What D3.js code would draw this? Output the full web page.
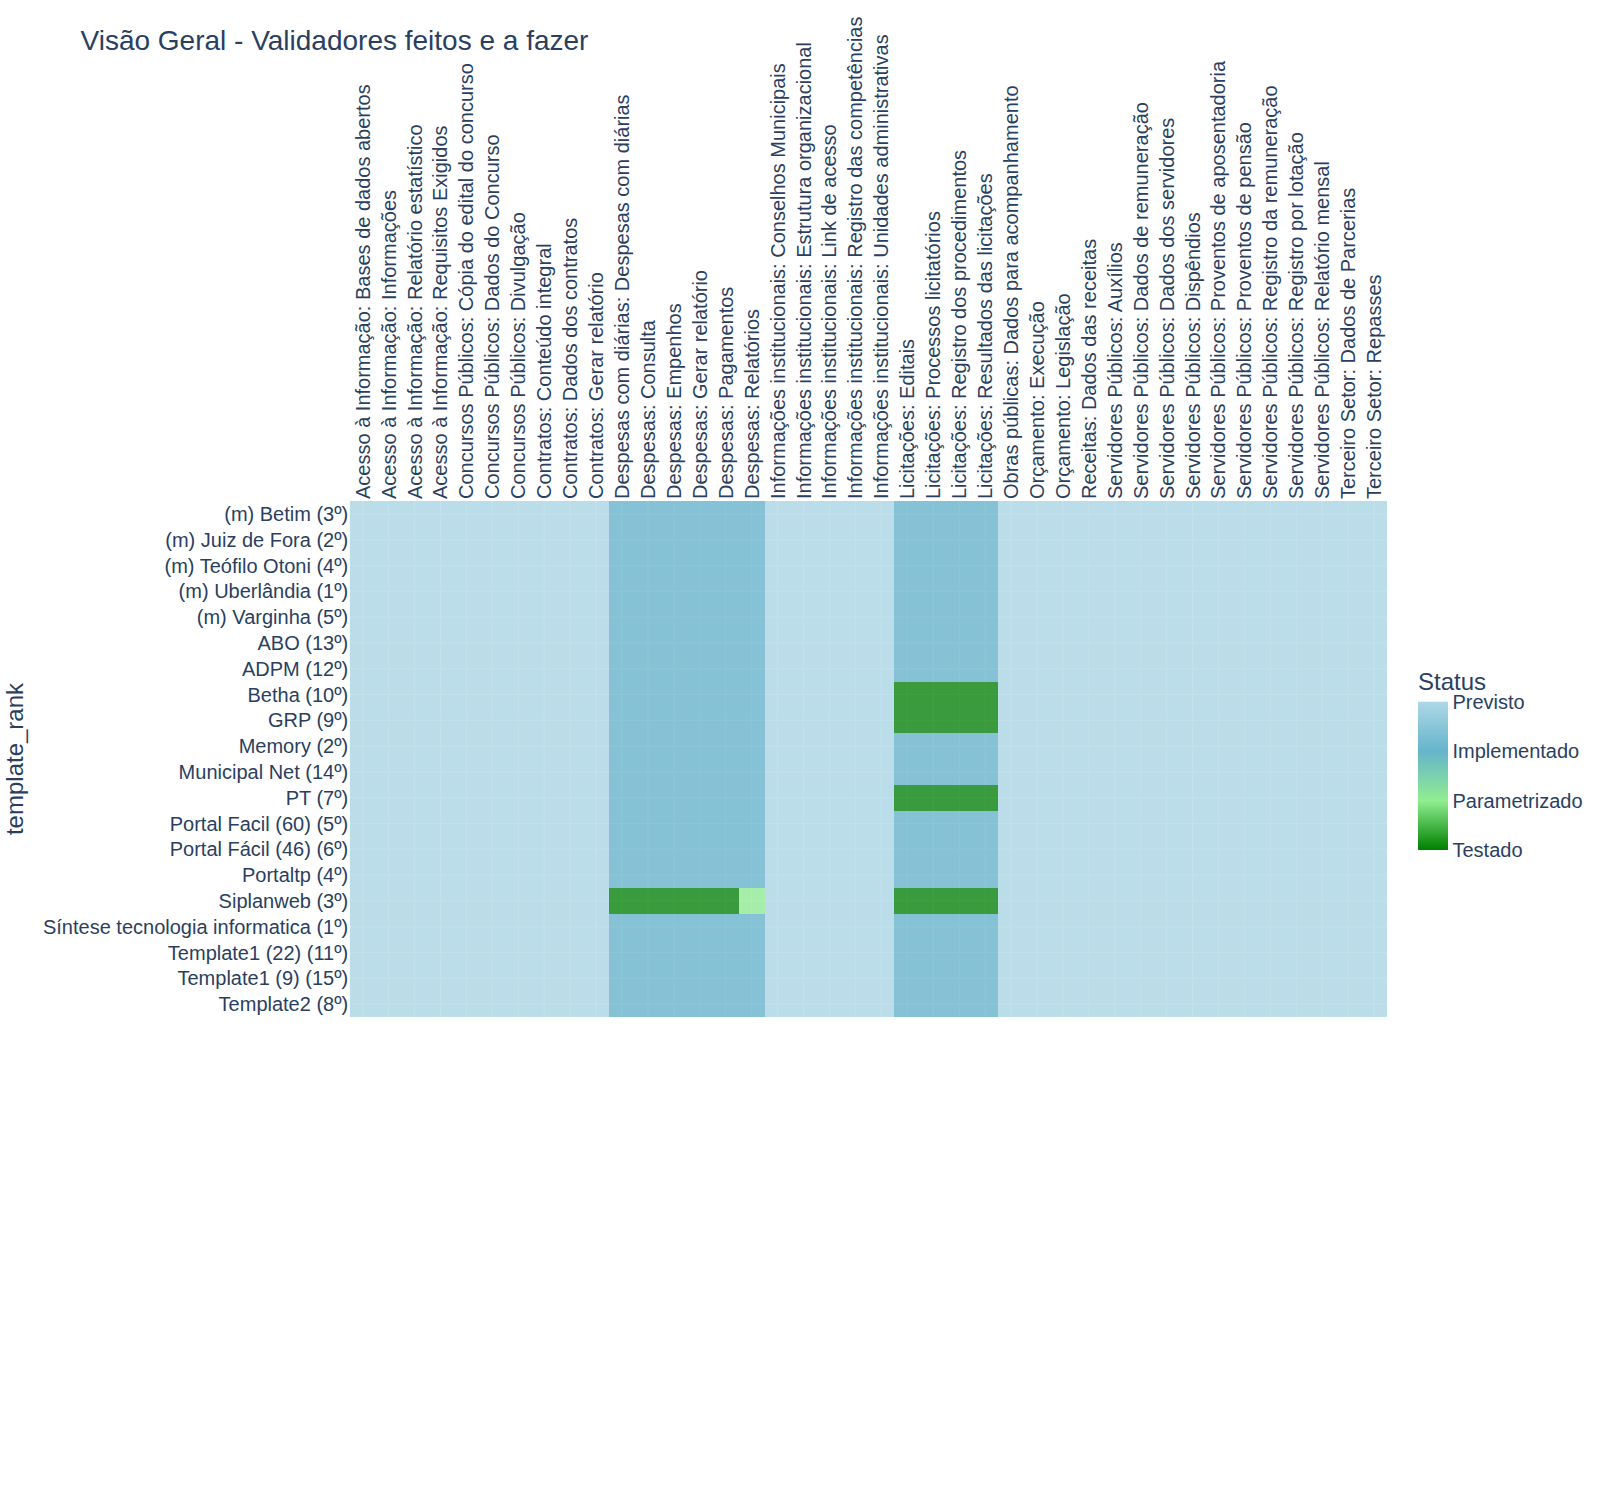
<!DOCTYPE html>
<html>
<head>
<meta charset="utf-8">
<script src="https://cdn.jsdelivr.net/npm/d3@7"></script>
<style>
  html, body { margin: 0; padding: 0; background: #fff; }
  text { font-family: "Liberation Sans", Arial, sans-serif; fill: #2a3f5f; }
</style>
</head>
<body>
<svg id="chart" width="1600" height="1500"></svg>
<script>
// ---- DATA ----
const chartTitle = "Visão Geral - Validadores feitos e a fazer";
const yAxisTitle = "template_rank";
const legendTitle = "Status";
const statusLabels = ["Previsto", "Implementado", "Parametrizado", "Testado"];
const statusColors = ["#add8e6", "#66b4cb", "#90ee90", "#008000"];

const columns = [
  "Acesso à Informação: Bases de dados abertos",
  "Acesso à Informação: Informações",
  "Acesso à Informação: Relatório estatístico",
  "Acesso à Informação: Requisitos Exigidos",
  "Concursos Públicos: Cópia do edital do concurso",
  "Concursos Públicos: Dados do Concurso",
  "Concursos Públicos: Divulgação",
  "Contratos: Conteúdo integral",
  "Contratos: Dados dos contratos",
  "Contratos: Gerar relatório",
  "Despesas com diárias: Despesas com diárias",
  "Despesas: Consulta",
  "Despesas: Empenhos",
  "Despesas: Gerar relatório",
  "Despesas: Pagamentos",
  "Despesas: Relatórios",
  "Informações institucionais: Conselhos Municipais",
  "Informações institucionais: Estrutura organizacional",
  "Informações institucionais: Link de acesso",
  "Informações institucionais: Registro das competências",
  "Informações institucionais: Unidades administrativas",
  "Licitações: Editais",
  "Licitações: Processos licitatórios",
  "Licitações: Registro dos procedimentos",
  "Licitações: Resultados das licitações",
  "Obras públicas: Dados para acompanhamento",
  "Orçamento: Execução",
  "Orçamento: Legislação",
  "Receitas: Dados das receitas",
  "Servidores Públicos: Auxílios",
  "Servidores Públicos: Dados de remuneração",
  "Servidores Públicos: Dados dos servidores",
  "Servidores Públicos: Dispêndios",
  "Servidores Públicos: Proventos de aposentadoria",
  "Servidores Públicos: Proventos de pensão",
  "Servidores Públicos: Registro da remuneração",
  "Servidores Públicos: Registro por lotação",
  "Servidores Públicos: Relatório mensal",
  "Terceiro Setor: Dados de Parcerias",
  "Terceiro Setor: Repasses"
];

const rows = [
  "(m) Betim (3º)",
  "(m) Juiz de Fora (2º)",
  "(m) Teófilo Otoni (4º)",
  "(m) Uberlândia (1º)",
  "(m) Varginha (5º)",
  "ABO (13º)",
  "ADPM (12º)",
  "Betha (10º)",
  "GRP (9º)",
  "Memory (2º)",
  "Municipal Net (14º)",
  "PT (7º)",
  "Portal Facil (60) (5º)",
  "Portal Fácil (46) (6º)",
  "Portaltp (4º)",
  "Siplanweb (3º)",
  "Síntese tecnologia informatica (1º)",
  "Template1 (22) (11º)",
  "Template1 (9) (15º)",
  "Template2 (8º)"
];

// status per cell: 0 Previsto, 1 Implementado, 2 Parametrizado, 3 Testado
const statusRows = [
  "0000000000111111000001111000000000000000",
  "0000000000111111000001111000000000000000",
  "0000000000111111000001111000000000000000",
  "0000000000111111000001111000000000000000",
  "0000000000111111000001111000000000000000",
  "0000000000111111000001111000000000000000",
  "0000000000111111000001111000000000000000",
  "0000000000111111000003333000000000000000",
  "0000000000111111000003333000000000000000",
  "0000000000111111000001111000000000000000",
  "0000000000111111000001111000000000000000",
  "0000000000111111000003333000000000000000",
  "0000000000111111000001111000000000000000",
  "0000000000111111000001111000000000000000",
  "0000000000111111000001111000000000000000",
  "0000000000333332000003333000000000000000",
  "0000000000111111000001111000000000000000",
  "0000000000111111000001111000000000000000",
  "0000000000111111000001111000000000000000",
  "0000000000111111000001111000000000000000"
];

// ---- LAYOUT ----
const svg = d3.select("#chart");
const plot = { left: 349.7, right: 1387, top: 501, bottom: 1017 };

const x = d3.scaleBand().domain(columns).range([plot.left, plot.right]).padding(0);
const y = d3.scaleBand().domain(rows).range([plot.top, plot.bottom]).padding(0);
const color = d3.scaleLinear().domain([0, 1, 2, 3]).range(statusColors);

const cells = [];
rows.forEach((r, i) => {
  columns.forEach((c, j) => {
    cells.push({ row: r, col: c, v: +statusRows[i][j] });
  });
});

// title
svg.append("text")
  .attr("x", 80.5).attr("y", 50)
  .style("font-size", "28px")
  .text(chartTitle);

// plot background
svg.append("rect")
  .attr("x", plot.left).attr("y", plot.top)
  .attr("width", plot.right - plot.left).attr("height", plot.bottom - plot.top)
  .attr("fill", "#e5ecf6");

// gridlines at category centers
const grid = svg.append("g").attr("stroke", "#fff").attr("stroke-width", 1);
grid.selectAll("line.gx").data(columns).join("line")
  .attr("x1", d => x(d) + x.bandwidth() / 2).attr("x2", d => x(d) + x.bandwidth() / 2)
  .attr("y1", plot.top).attr("y2", plot.bottom);
grid.selectAll("line.gy").data(rows).join("line")
  .attr("y1", d => y(d) + y.bandwidth() / 2).attr("y2", d => y(d) + y.bandwidth() / 2)
  .attr("x1", plot.left).attr("x2", plot.right);

// heatmap cells
svg.append("g").attr("opacity", 0.75)
  .selectAll("rect").data(cells).join("rect")
  .attr("x", d => x(d.col)).attr("y", d => y(d.row))
  .attr("width", x.bandwidth() + 0.3).attr("height", y.bandwidth() + 0.3)
  .attr("fill", d => color(d.v))
  .attr("shape-rendering", "crispEdges");

// x tick labels (top, rotated)
svg.append("g").selectAll("text").data(columns).join("text")
  .attr("transform", d => `translate(${x(d) + x.bandwidth() / 2},${plot.top - 2}) rotate(-90)`)
  .attr("dy", "0.35em")
  .attr("text-anchor", "start")
  .style("font-size", "20px")
  .text(d => d);

// y tick labels
svg.append("g").selectAll("text").data(rows).join("text")
  .attr("x", plot.left - 1.5)
  .attr("y", d => y(d) + y.bandwidth() / 2)
  .attr("dy", "0.35em")
  .attr("text-anchor", "end")
  .style("font-size", "20px")
  .text(d => d);

// y axis title
svg.append("text")
  .attr("transform", `translate(23,${(plot.top + plot.bottom) / 2}) rotate(-90)`)
  .attr("text-anchor", "middle")
  .style("font-size", "24px")
  .text(yAxisTitle);

// colorbar
const cb = { x: 1418, y: 701.7, w: 30, h: 148.3 };
const defs = svg.append("defs");
const grad = defs.append("linearGradient").attr("id", "cbgrad")
  .attr("x1", 0).attr("y1", 0).attr("x2", 0).attr("y2", 1);
const cbScale = d3.scaleLinear().domain([0, statusLabels.length - 1]).range([cb.y, cb.y + cb.h]);
d3.range(0, 3.0001, 0.1).forEach(v => {
  grad.append("stop").attr("offset", (v / 3 * 100) + "%").attr("stop-color", color(v));
});
svg.append("rect")
  .attr("x", cb.x).attr("y", cb.y).attr("width", cb.w).attr("height", cb.h)
  .attr("fill", "url(#cbgrad)");

svg.append("text")
  .attr("x", cb.x).attr("y", 689.5)
  .style("font-size", "24px")
  .text(legendTitle);

svg.append("g").selectAll("text").data(statusLabels).join("text")
  .attr("x", 1452.5)
  .attr("y", (d, i) => cbScale(i))
  .attr("dy", "0.36em")
  .style("font-size", "20px")
  .text(d => d);
</script>
</body>
</html>
